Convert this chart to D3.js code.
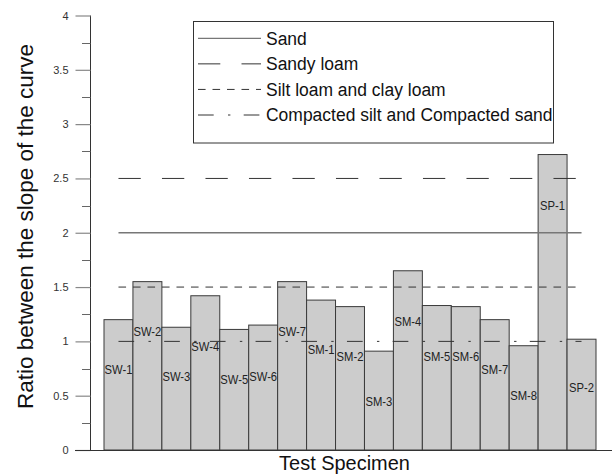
<!DOCTYPE html>
<html>
<head>
<meta charset="utf-8">
<script src="https://cdn.jsdelivr.net/npm/d3@7/dist/d3.min.js"></script>
<style>
  html, body { margin: 0; padding: 0; background: #fff; }
  svg { display: block; font-family: "Liberation Sans", Arial, sans-serif; }
</style>
</head>
<body>
<svg id="chart" width="615" height="474"></svg>
<script>
// Specimens and their slope ratios
const specimens = ["SW-1","SW-2","SW-3","SW-4","SW-5","SW-6","SW-7",
                   "SM-1","SM-2","SM-3","SM-4","SM-5","SM-6","SM-7","SM-8",
                   "SP-1","SP-2"];
const ratios = [1.20, 1.55, 1.13, 1.42, 1.11, 1.15, 1.55,
                1.38, 1.32, 0.91, 1.65, 1.33, 1.32, 1.20, 0.96,
                2.72, 1.02];
// Height (in ratio units) at which each specimen's name is written
const labelAt = [0.74, 1.09, 0.67, 0.95, 0.65, 0.67, 1.09,
                 0.92, 0.86, 0.44, 1.18, 0.86, 0.86, 0.74, 0.50,
                 2.25, 0.57];

// Soil-class reference ratios
const soilClasses = ["Sand", "Sandy loam", "Silt loam and clay loam", "Compacted silt and Compacted sand"];
const soilRatios = [2.0, 2.5, 1.5, 1.0];

const yTicks = [0, 0.5, 1, 1.5, 2, 2.5, 3, 3.5, 4];
const yTickLabels = ["0", "0.5", "1", "1.5", "2", "2.5", "3", "3.5", "4"];

const svg = d3.select("#chart");

const x = d3.scaleBand().domain(specimens).range([104, 596]).padding(0);
const y = d3.scaleLinear().domain([0, 4]).range([450, 15.5]);

// line styles per soil class: [stroke, width, dasharray]
const styles = [
  ["#777", 1.3, null],
  ["#333", 1, "22.3,21.2"],
  ["#333", 1, "7.6,6.9"],
  ["#333", 1, "15.7,14.3,2.4,13.3"]
];

// Bars
svg.append("g").selectAll("rect")
  .data(specimens)
  .join("rect")
  .attr("x", d => x(d))
  .attr("y", (d, i) => y(ratios[i]))
  .attr("width", x.bandwidth())
  .attr("height", (d, i) => y(0) - y(ratios[i]))
  .attr("fill", "#cccccc")
  .attr("stroke", "#3a3a3a")
  .attr("stroke-width", 1);

// Bar names
const txtScale = 0.9;
svg.append("g").selectAll("text")
  .data(specimens)
  .join("text")
  .attr("transform", (d, i) => `translate(${x(d) + x.bandwidth() / 2},${y(labelAt[i])}) scale(${txtScale},1)`)
  .attr("text-anchor", "middle")
  .attr("dominant-baseline", "central")
  .attr("font-size", 12.5)
  .attr("fill", "#222")
  .text(d => d);

// Reference lines, spanning from first to last bar centre
const x0 = x(specimens[0]) + x.bandwidth() / 2;
const x1 = x(specimens[specimens.length - 1]) + x.bandwidth() / 2;
svg.append("g").selectAll("line")
  .data(soilClasses)
  .join("line")
  .attr("x1", x0)
  .attr("x2", x1)
  .attr("y1", (d, i) => y(soilRatios[i]))
  .attr("y2", (d, i) => y(soilRatios[i]))
  .attr("stroke", (d, i) => styles[i][0])
  .attr("stroke-width", (d, i) => styles[i][1])
  .attr("stroke-dasharray", (d, i) => styles[i][2]);

// Y axis
const yAxis = d3.axisLeft(y)
  .tickValues(yTicks)
  .tickFormat((d, i) => yTickLabels[i])
  .tickSize(15)
  .tickPadding(7);
const gy = svg.append("g").attr("transform", "translate(90.5,0)").call(yAxis);
gy.select(".domain").attr("stroke", "#333").attr("d", `M0,${y(4)}V${y(0)}`);
gy.selectAll(".tick line").attr("stroke", "#888").attr("stroke-width", 1.2);
gy.selectAll(".tick text").attr("font-size", 11).attr("fill", "#333")
  .attr("font-family", "'Liberation Sans', Arial, sans-serif");

// minor ticks
const minor = d3.range(0.25, 4, 0.5);
svg.append("g").selectAll("line")
  .data(minor)
  .join("line")
  .attr("x1", 82).attr("x2", 90.5)
  .attr("y1", d => Math.round(y(d)) + 0.5)
  .attr("y2", d => Math.round(y(d)) + 0.5)
  .attr("stroke", "#666");

// X axis baseline
svg.append("line")
  .attr("x1", 75).attr("x2", 612)
  .attr("y1", 450.5).attr("y2", 450.5)
  .attr("stroke", "#333");

// Axis titles
svg.append("text")
  .attr("transform", "translate(344.5,470) scale(0.95,1)")
  .attr("text-anchor", "middle")
  .attr("font-size", 21)
  .attr("fill", "#111")
  .text("Test Specimen");

svg.append("text")
  .attr("transform", "translate(33,226.5) rotate(-90)")
  .attr("text-anchor", "middle")
  .attr("font-size", 22.5)
  .attr("fill", "#111")
  .text("Ratio between the slope of the curve");

// Legend
const legend = svg.append("g");
legend.append("rect")
  .attr("x", 193.5).attr("y", 21.5)
  .attr("width", 360).attr("height", 121.5)
  .attr("fill", "#fff")
  .attr("stroke", "#333");

const rowY = d3.scalePoint().domain(soilClasses).range([38.3, 115]);
const rows = legend.selectAll("g.row")
  .data(soilClasses)
  .join("g")
  .attr("class", "row");
rows.append("line")
  .attr("x1", 198).attr("x2", 261)
  .attr("y1", d => rowY(d)).attr("y2", d => rowY(d))
  .attr("stroke", (d, i) => styles[i][0])
  .attr("stroke-width", (d, i) => styles[i][1])
  .attr("stroke-dasharray", (d, i) => styles[i][2]);
rows.append("text")
  .attr("transform", d => `translate(266,${rowY(d) + 6.3}) scale(0.92,1)`)
  .attr("font-size", 19)
  .attr("fill", "#111")
  .text(d => d);
</script>
</body>
</html>
